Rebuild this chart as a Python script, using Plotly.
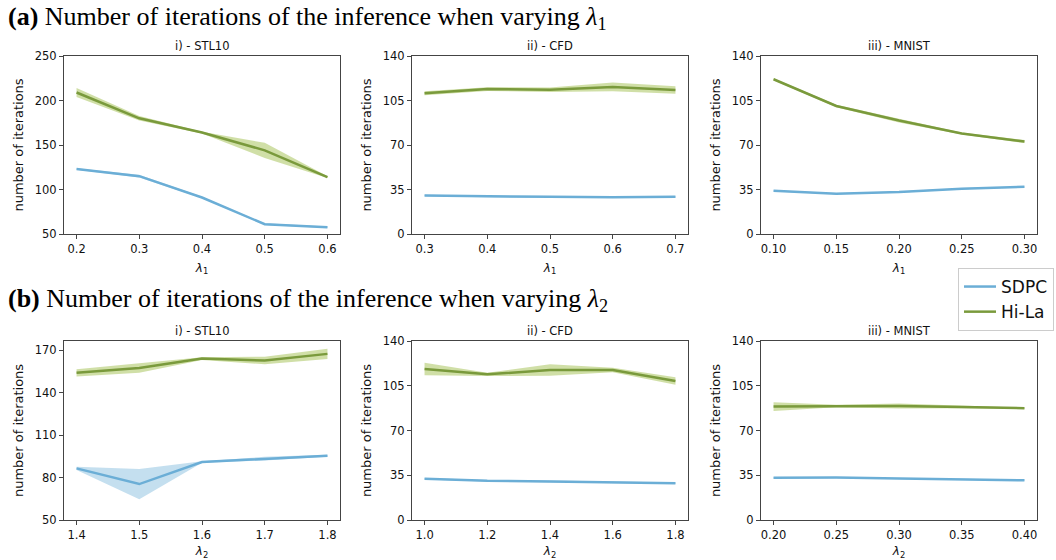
import plotly.graph_objects as go

# ---------------- data ----------------
# Row (a): varying lambda_1
a1_x = [0.2, 0.3, 0.4, 0.5, 0.6]
a1_sdpc = [123, 115, 91, 61, 57.5]
a1_sdpc_sd = [0.8, 1.5, 0.8, 1.0, 0.8]
a1_hila = [209, 180, 164, 144, 114]
a1_hila_sd = [5, 2.5, 1, 8.5, 1]

a2_x = [0.3, 0.4, 0.5, 0.6, 0.7]
a2_sdpc = [30.3, 29.5, 29.2, 29.0, 29.2]
a2_sdpc_sd = [0.6, 0.6, 0.6, 0.6, 0.6]
a2_hila = [110.7, 114.0, 113.5, 115.7, 113.3]
a2_hila_sd = [1.5, 1.5, 1.8, 3.5, 3]

a3_x = [0.10, 0.15, 0.20, 0.25, 0.30]
a3_sdpc = [34.0, 31.7, 33.0, 35.6, 37.1]
a3_sdpc_sd = [0.5, 0.5, 0.5, 0.5, 0.5]
a3_hila = [121.7, 100.7, 89.2, 79.0, 72.7]
a3_hila_sd = [0.8, 1.0, 1.5, 0.8, 1.2]

# Row (b): varying lambda_2
b1_x = [1.4, 1.5, 1.6, 1.7, 1.8]
b1_sdpc = [86.5, 75.4, 91.0, 93.3, 95.4]
b1_sdpc_lo = [85.3, 64.6, 90.5, 92.1, 94.7]
b1_sdpc_hi = [87.6, 86.0, 91.5, 94.7, 96.1]
b1_hila = [154.0, 157.4, 164.1, 162.7, 167.4]
b1_hila_sd = [2.6, 3.3, 1.0, 2.7, 3.6]

b2_x = [1.0, 1.2, 1.4, 1.6, 1.8]
b2_sdpc = [32.3, 30.7, 30.2, 29.5, 28.7]
b2_sdpc_sd = [0.6, 0.6, 0.6, 0.6, 0.6]
b2_hila = [118.1, 113.9, 117.3, 117.3, 108.7]
b2_hila_sd = [4.8, 1.3, 4.5, 1.8, 3.0]

b3_x = [0.20, 0.25, 0.30, 0.35, 0.40]
b3_sdpc = [33.0, 33.2, 32.4, 31.7, 31.1]
b3_sdpc_sd = [0.5, 0.5, 0.5, 0.5, 0.5]
b3_hila = [88.7, 89.2, 89.2, 88.4, 87.4]
b3_hila_sd = [3.4, 1.0, 2.0, 1.0, 0.5]

subtitles = ["i) - STL10", "ii) - CFD", "iii) - MNIST"]
row_titles = ["<b>(a)</b> Number of iterations of the inference when varying <i>λ</i><sub>1</sub>",
              "<b>(b)</b> Number of iterations of the inference when varying <i>λ</i><sub>2</sub>"]

SDPC_C = "#6baed6"
SDPC_F = "rgba(107,174,214,0.40)"
HILA_C = "#7a9a3c"
HILA_F = "rgba(150,185,60,0.45)"

W, H = 1056, 560
xdom_px = [(64, 340), (412, 688), (761, 1037)]
ydom_px = [(56, 234), (341, 520)]

panels = [
    (0, 0, a1_x, a1_sdpc, [m - s for m, s in zip(a1_sdpc, a1_sdpc_sd)], [m + s for m, s in zip(a1_sdpc, a1_sdpc_sd)],
     a1_hila, a1_hila_sd, [0.18, 0.62], [50, 250], [50, 100, 150, 200, 250], ["0.2", "0.3", "0.4", "0.5", "0.6"], 1),
    (0, 1, a2_x, a2_sdpc, [m - s for m, s in zip(a2_sdpc, a2_sdpc_sd)], [m + s for m, s in zip(a2_sdpc, a2_sdpc_sd)],
     a2_hila, a2_hila_sd, [0.28, 0.72], [0, 140], [0, 35, 70, 105, 140], ["0.3", "0.4", "0.5", "0.6", "0.7"], 1),
    (0, 2, a3_x, a3_sdpc, [m - s for m, s in zip(a3_sdpc, a3_sdpc_sd)], [m + s for m, s in zip(a3_sdpc, a3_sdpc_sd)],
     a3_hila, a3_hila_sd, [0.09, 0.31], [0, 140], [0, 35, 70, 105, 140], ["0.10", "0.15", "0.20", "0.25", "0.30"], 1),
    (1, 0, b1_x, b1_sdpc, b1_sdpc_lo, b1_sdpc_hi,
     b1_hila, b1_hila_sd, [1.38, 1.82], [50, 176.5], [50, 80, 110, 140, 170], ["1.4", "1.5", "1.6", "1.7", "1.8"], 2),
    (1, 1, b2_x, b2_sdpc, [m - s for m, s in zip(b2_sdpc, b2_sdpc_sd)], [m + s for m, s in zip(b2_sdpc, b2_sdpc_sd)],
     b2_hila, b2_hila_sd, [0.96, 1.84], [0, 140], [0, 35, 70, 105, 140], ["1.0", "1.2", "1.4", "1.6", "1.8"], 2),
    (1, 2, b3_x, b3_sdpc, [m - s for m, s in zip(b3_sdpc, b3_sdpc_sd)], [m + s for m, s in zip(b3_sdpc, b3_sdpc_sd)],
     b3_hila, b3_hila_sd, [0.19, 0.41], [0, 140], [0, 35, 70, 105, 140], ["0.20", "0.25", "0.30", "0.35", "0.40"], 2),
]

fig = go.Figure()
annotations = []
FONT = "DejaVu Sans"

for i, (r, c, xs, sm, slo, shi, hm, hsd, xr, yr, yt, xt, lam) in enumerate(panels):
    k = i + 1
    xa = "x" if k == 1 else f"x{k}"
    ya = "y" if k == 1 else f"y{k}"
    hlo = [m - s for m, s in zip(hm, hsd)]
    hhi = [m + s for m, s in zip(hm, hsd)]
    fig.add_trace(go.Scatter(x=xs + xs[::-1], y=shi + slo[::-1], fill="toself", fillcolor=SDPC_F,
                             line=dict(width=0), mode="lines", hoverinfo="skip", showlegend=False,
                             xaxis=xa, yaxis=ya))
    fig.add_trace(go.Scatter(x=xs, y=sm, mode="lines", line=dict(color=SDPC_C, width=2.5),
                             name="SDPC", showlegend=(k == 1), xaxis=xa, yaxis=ya))
    fig.add_trace(go.Scatter(x=xs + xs[::-1], y=hhi + hlo[::-1], fill="toself", fillcolor=HILA_F,
                             line=dict(width=0), mode="lines", hoverinfo="skip", showlegend=False,
                             xaxis=xa, yaxis=ya))
    fig.add_trace(go.Scatter(x=xs, y=hm, mode="lines", line=dict(color=HILA_C, width=2.5),
                             name="Hi-La", showlegend=(k == 1), xaxis=xa, yaxis=ya))

    x0, x1 = xdom_px[c]
    y0, y1 = ydom_px[r]
    axis_common = dict(showline=True, linecolor="#444", linewidth=1, mirror=True, showgrid=False,
                       zeroline=False, ticks="outside", ticklen=4, tickcolor="#444", automargin=False,
                       tickfont=dict(family=FONT, size=11.5, color="#111"))
    fig.layout[f"xaxis{'' if k == 1 else k}"] = dict(
        domain=[x0 / W, x1 / W], range=xr, anchor=ya,
        tickvals=xs, ticktext=xt,
        title=dict(text=f"<i>λ</i><sub>{lam}</sub>", font=dict(family=FONT, size=12, color="#111"), standoff=8),
        **axis_common)
    fig.layout[f"yaxis{'' if k == 1 else k}"] = dict(
        domain=[1 - y1 / H, 1 - y0 / H], range=yr, anchor=xa,
        tickvals=yt,
        title=dict(text="number of iterations", font=dict(family=FONT, size=13, color="#111"), standoff=8),
        **axis_common)
    annotations.append(dict(text=subtitles[c], x=(x0 + x1) / 2 / W, y=1 - (y0 - 10) / H,
                            xref="paper", yref="paper", xanchor="center", yanchor="middle",
                            showarrow=False, font=dict(family=FONT, size=11.5, color="#111")))

annotations.append(dict(text=row_titles[0], x=6 / W, y=1 - 18 / H, xref="paper", yref="paper",
                        xanchor="left", yanchor="middle", showarrow=False,
                        font=dict(family="Liberation Serif", size=26, color="#000")))
annotations.append(dict(text=row_titles[1], x=6 / W, y=1 - 300 / H, xref="paper", yref="paper",
                        xanchor="left", yanchor="middle", showarrow=False,
                        font=dict(family="Liberation Serif", size=26, color="#000")))

fig.update_layout(
    width=W, height=H, margin=dict(l=0, r=0, t=0, b=0, autoexpand=False),
    paper_bgcolor="white", plot_bgcolor="white",
    annotations=annotations,
    legend=dict(x=958 / W, y=1 - 268 / H, xanchor="left", yanchor="top",
                font=dict(family=FONT, size=17, color="#111"),
                bordercolor="#cccccc", borderwidth=1, bgcolor="white",
                itemwidth=32, tracegroupgap=0),
)

fig.write_html("out.html", config={"displayModeBar": False},
               post_script="document.body.style.margin='0';document.body.style.overflow='hidden';")
